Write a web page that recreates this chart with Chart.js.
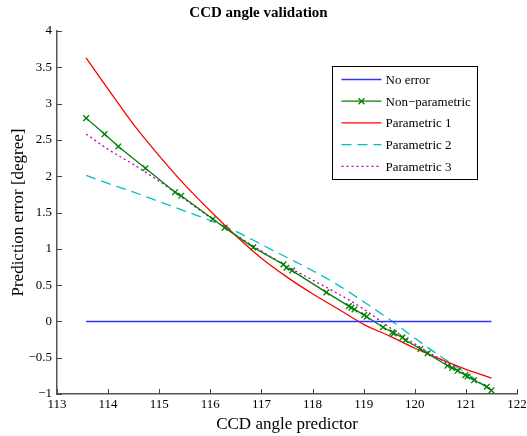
<!DOCTYPE html>
<html>
<head>
<meta charset="utf-8">
<script src="https://cdn.jsdelivr.net/npm/chart.js@4/dist/chart.umd.min.js"></script>
<style>
html,body{margin:0;padding:0;background:#fff;}
#wrap{position:relative;width:527px;height:436px;}
</style>
</head>
<body>
<div id="wrap"><canvas id="c" width="527" height="436"></canvas></div>
<script>
// ---- data ----
const xTicks = [113,114,115,116,117,118,119,120,121,122];
const yTicks = [-1,-0.5,0,0.5,1,1.5,2,2.5,3,3.5,4];

const noErrorX = [113.57, 121.5];
const noErrorY = [0, 0];

const nonParamX = [113.57,113.93,114.20,114.73,115.31,115.43,116.05,116.28,116.84,117.43,117.49,117.60,118.27,118.71,118.76,118.82,119.01,119.06,119.38,119.56,119.59,119.76,119.82,120.11,120.25,120.64,120.73,120.84,120.99,121.03,121.16,121.41,121.50];
const nonParamY = [2.80,2.58,2.41,2.11,1.78,1.73,1.41,1.29,1.02,0.785,0.74,0.70,0.40,0.21,0.19,0.165,0.087,0.065,-0.08,-0.15,-0.165,-0.22,-0.26,-0.38,-0.44,-0.61,-0.64,-0.68,-0.74,-0.76,-0.81,-0.90,-0.95];

const curveX = [113.57,114.0,114.5,115.0,115.5,116.0,116.5,117.0,117.5,118.0,118.5,119.0,119.5,120.0,120.5,121.0,121.5];
const param1Y = [3.63,3.20,2.71,2.28,1.88,1.52,1.18,0.87,0.61,0.38,0.17,-0.04,-0.20,-0.37,-0.52,-0.66,-0.78];
const param2Y = [2.01,1.90,1.78,1.65,1.52,1.39,1.24,1.06,0.88,0.70,0.50,0.27,0.03,-0.23,-0.48,-0.71,-0.95];
const param3Y = [2.58,2.37,2.16,1.93,1.68,1.43,1.19,0.97,0.76,0.57,0.38,0.17,-0.08,-0.31,-0.52,-0.73,-0.94];

const seriesLabels = ['No error','Non\u2212parametric','Parametric 1','Parametric 2','Parametric 3'];

const pts = (xs, ys) => xs.map((x, i) => ({x: x, y: ys[i]}));

const SERIF = "'Liberation Serif', 'Times New Roman', serif";

// inward ticks + legend box
const decorPlugin = {
  id: 'decor',
  afterDraw(chart) {
    const ctx = chart.ctx;
    const xs = chart.scales.x, ys = chart.scales.y;
    const ca = chart.chartArea;
    ctx.save();
    ctx.strokeStyle = '#444';
    ctx.lineWidth = 1;
    xs.ticks.forEach(t => {
      const px = Math.round(xs.getPixelForValue(t.value)) + 0.5;
      ctx.beginPath(); ctx.moveTo(px, ca.bottom); ctx.lineTo(px, ca.bottom - 5); ctx.stroke();
    });
    ys.ticks.forEach(t => {
      const py = Math.round(ys.getPixelForValue(t.value)) + 0.5;
      ctx.beginPath(); ctx.moveTo(ca.left, py); ctx.lineTo(ca.left + 5, py); ctx.stroke();
    });
    // legend
    const bx = Math.round(ca.right - 185) + 0.5, by = Math.round(ca.top + 35) + 0.5;
    const bw = 145, bh = 113;
    ctx.fillStyle = '#fff';
    ctx.fillRect(bx, by, bw, bh);
    ctx.strokeStyle = '#000';
    ctx.lineWidth = 1;
    ctx.strokeRect(bx, by, bw, bh);
    ctx.font = '13px ' + SERIF;
    ctx.textBaseline = 'middle';
    ctx.textAlign = 'left';
    chart.data.datasets.forEach((ds, i) => {
      const y = by + 13 + i * 21.7;
      ctx.strokeStyle = ds.borderColor;
      ctx.lineWidth = ds.borderWidth;
      ctx.setLineDash(ds.borderDash || []);
      ctx.beginPath(); ctx.moveTo(bx + 9, y); ctx.lineTo(bx + 49, y); ctx.stroke();
      ctx.setLineDash([]);
      if (ds.pointRadius > 0) {
        const cx = bx + 29, r = 3;
        ctx.beginPath();
        ctx.moveTo(cx - r, y - r); ctx.lineTo(cx + r, y + r);
        ctx.moveTo(cx - r, y + r); ctx.lineTo(cx + r, y - r);
        ctx.stroke();
      }
      ctx.fillStyle = '#000';
      ctx.fillText(ds.label, bx + 53, y + 1);
    });
    ctx.restore();
  }
};

new Chart(document.getElementById('c'), {
  type: 'line',
  data: {
    datasets: [
      {label: seriesLabels[0], data: pts(noErrorX, noErrorY), borderColor: '#3333ff', borderWidth: 1.5, pointRadius: 0, fill: false},
      {label: seriesLabels[1], data: pts(nonParamX, nonParamY), borderColor: '#008000', backgroundColor: '#008000', borderWidth: 1.3,
        pointStyle: 'crossRot', pointRadius: 4, pointBorderWidth: 1.3, pointBorderColor: '#008000', fill: false},
      {label: seriesLabels[2], data: pts(curveX, param1Y), borderColor: '#ff0000', borderWidth: 1.3, pointRadius: 0, fill: false, cubicInterpolationMode: 'monotone'},
      {label: seriesLabels[3], data: pts(curveX, param2Y), borderColor: '#00bfbf', borderWidth: 1.3, borderDash: [10, 6], pointRadius: 0, fill: false, cubicInterpolationMode: 'monotone'},
      {label: seriesLabels[4], data: pts(curveX, param3Y), borderColor: '#bf00bf', borderWidth: 1.3, borderDash: [2, 3], pointRadius: 0, fill: false, cubicInterpolationMode: 'monotone'}
    ]
  },
  options: {
    responsive: false,
    animation: false,
    clip: false,
    layout: {padding: {left: 0, right: 10, top: 0, bottom: 0}},
    plugins: {
      legend: {display: false},
      tooltip: {enabled: false},
      title: {
        display: true,
        text: 'CCD angle validation',
        color: '#000',
        font: {family: SERIF, size: 15, weight: 'bold'},
        padding: {top: 4, bottom: 9}
      }
    },
    scales: {
      x: {
        type: 'linear',
        min: 113, max: 122,
        afterBuildTicks: s => { s.ticks = xTicks.map(v => ({value: v})); },
        afterFit: s => { s.height = 42; s.paddingRight = 0; s.paddingLeft = 0; },
        grid: {display: true, drawOnChartArea: false, drawTicks: false},
        border: {display: true, color: '#555', width: 1.5},
        ticks: {color: '#000', font: {family: SERIF, size: 13}, padding: 3, maxRotation: 0, autoSkip: false},
        title: {display: true, text: 'CCD angle predictor', color: '#000', font: {family: SERIF, size: 17}, padding: {top: 0, bottom: 1}}
      },
      y: {
        type: 'linear',
        min: -1, max: 4,
        afterBuildTicks: s => { s.ticks = yTicks.map(v => ({value: v})); },
        afterFit: s => { s.width = 57; },
        grid: {display: true, drawOnChartArea: false, drawTicks: false},
        border: {display: true, color: '#555', width: 1.5},
        ticks: {color: '#000', font: {family: SERIF, size: 13}, padding: 5,
          callback: v => (v < 0 ? '\u2212' + Math.abs(v) : String(v))},
        title: {display: true, text: 'Prediction error [degree]', color: '#000', font: {family: SERIF, size: 17}, padding: {top: 8, bottom: 4}}
      }
    }
  },
  plugins: [decorPlugin]
});
</script>
</body>
</html>
